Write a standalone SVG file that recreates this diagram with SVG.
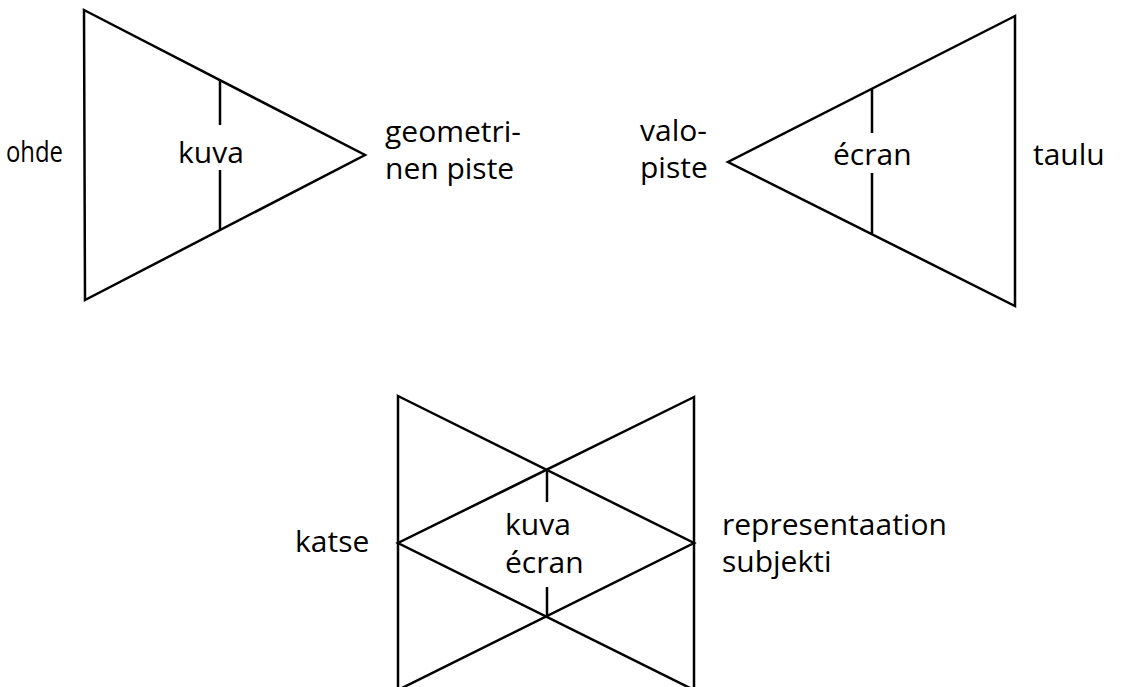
<svg xmlns="http://www.w3.org/2000/svg" width="1132" height="687" viewBox="0 0 1132 687">
  <style>
    .edge { fill: none; stroke: #000; stroke-width: 2.5; stroke-linejoin: miter; stroke-linecap: butt; }
    .lbl { font-family: "Open Sans", "Noto Sans", "DejaVu Sans", sans-serif; font-size: 30px; fill: #000; }
  </style>
  <rect width="1132" height="687" fill="#fff"/>

  <!-- Left cone: object (kohde) to geometric point, image plane in between -->
  <g id="cone-left">
    <polygon class="edge" points="84,10 365,155 85,300"/>
    <line class="edge" x1="220" y1="80" x2="220" y2="125"/>
    <line class="edge" x1="220" y1="170" x2="220" y2="230"/>
    <text class="lbl" x="6" y="162" textLength="57" lengthAdjust="spacingAndGlyphs">ohde</text>
    <text class="lbl" x="178" y="163">kuva</text>
    <text class="lbl" x="385" y="142">geometri-</text>
    <text class="lbl" x="385" y="179">nen piste</text>
  </g>

  <!-- Right cone: light point to picture, screen in between -->
  <g id="cone-right">
    <polygon class="edge" points="1015,16 728,162 1015,306"/>
    <line class="edge" x1="872" y1="89" x2="872" y2="133"/>
    <line class="edge" x1="872" y1="173" x2="872" y2="235"/>
    <text class="lbl" x="640" y="141">valo-</text>
    <text class="lbl" x="640" y="178">piste</text>
    <text class="lbl" x="833" y="165">écran</text>
    <text class="lbl" x="1033" y="165">taulu</text>
  </g>

  <!-- Overlapping cones: gaze and subject of representation -->
  <g id="cones-overlap">
    <polygon class="edge" points="398,396 694,543 398,690"/>
    <polygon class="edge" points="694,397 398,543 694,690"/>
    <line class="edge" x1="547" y1="470" x2="547" y2="502"/>
    <line class="edge" x1="547" y1="587" x2="547" y2="616"/>
    <text class="lbl" x="295" y="552">katse</text>
    <text class="lbl" x="505" y="535">kuva</text>
    <text class="lbl" x="505" y="573">écran</text>
    <text class="lbl" x="722" y="535">representaation</text>
    <text class="lbl" x="722" y="572">subjekti</text>
  </g>
</svg>
